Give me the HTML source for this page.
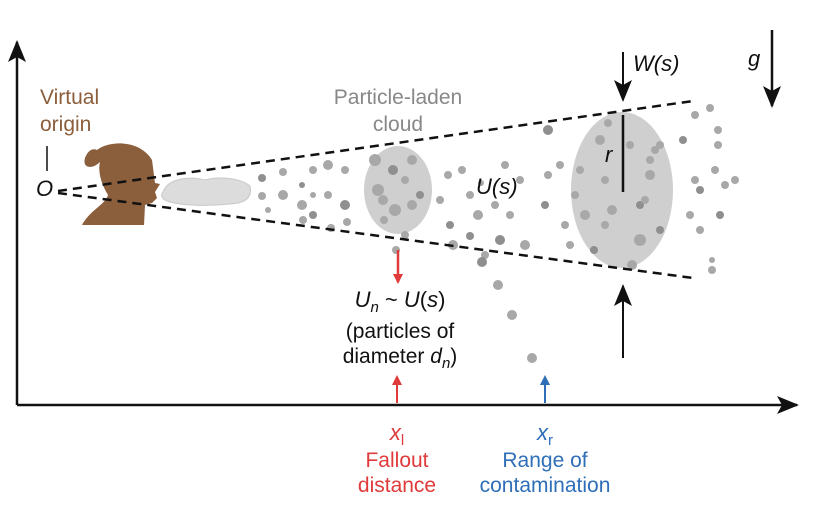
<!DOCTYPE html>
<html><head><meta charset="utf-8"><style>
html,body{margin:0;padding:0;background:#fff}
svg{display:block}
text{font-family:"Liberation Sans",sans-serif}
</style></head><body>
<svg id="fig" width="820" height="524" viewBox="0 0 820 524">
<defs>
<marker id="ah" markerWidth="10" markerHeight="10" refX="8" refY="5" orient="auto" markerUnits="userSpaceOnUse"><path d="M0,0 L10,5 L0,10 z" fill="#111"/></marker>
<marker id="ahb" markerWidth="22" markerHeight="22" refX="20" refY="11" orient="auto" markerUnits="userSpaceOnUse"><path d="M0,2 L22,11 L0,20 L5,11 z" fill="#111"/></marker>
<marker id="ahr" markerWidth="10" markerHeight="10" refX="8" refY="5" orient="auto" markerUnits="userSpaceOnUse"><path d="M0,0 L10,5 L0,10 z" fill="#e03a3a"/></marker>
<marker id="ahl" markerWidth="10" markerHeight="10" refX="8" refY="5" orient="auto" markerUnits="userSpaceOnUse"><path d="M0,0 L10,5 L0,10 z" fill="#2f6fb8"/></marker>
</defs>
<line x1="17" y1="405" x2="17" y2="42" stroke="#111" stroke-width="2.5" marker-end="url(#ahb)"/>
<line x1="17" y1="405" x2="797" y2="405" stroke="#111" stroke-width="2.5" marker-end="url(#ahb)"/>
<text x="40" y="104" font-size="21" fill="#8b5e3c">Virtual</text>
<text x="40" y="131" font-size="21" fill="#8b5e3c">origin</text>
<line x1="47" y1="146" x2="47" y2="171" stroke="#111" stroke-width="1.5"/>
<text x="36" y="196" font-size="22" font-style="italic" fill="#111">O</text>
<path d="M97,150 C110,140 140,140 152,160 L155,183 L160,184 L155,192 L157,198 L152,203 L145,205 L144,225 L82,225 C90,210 105,205 108,195 C100,182 98,170 100,162 C92,170 82,168 85,158 C88,150 93,148 97,150 z" fill="#8b5e3c"/>
<path d="M163,192 C168,178 190,176 205,180 C220,176 240,178 250,186 C252,196 248,203 230,204 C210,206 185,206 170,202 C162,200 160,196 163,192 z" fill="#dcdcdc" stroke="#c8c8c8"/>
<ellipse cx="398" cy="190" rx="34" ry="44" fill="#cfcfcf"/>
<ellipse cx="622" cy="190" rx="51" ry="78" fill="#cfcfcf"/>
<g id="dots"></g>
<line x1="58" y1="191" x2="693" y2="101" stroke="#111" stroke-width="2.5" stroke-dasharray="9,6"/>
<line x1="58" y1="193" x2="693" y2="278" stroke="#111" stroke-width="2.5" stroke-dasharray="9,6"/>
<text x="398" y="104" font-size="21" fill="#888" text-anchor="middle">Particle-laden</text>
<text x="398" y="131" font-size="21" fill="#888" text-anchor="middle">cloud</text>
<text x="476" y="194" font-size="22" font-style="italic" fill="#111">U(s)</text>
<line x1="623" y1="52" x2="623" y2="100" stroke="#111" stroke-width="2" marker-end="url(#ahb)"/>
<text x="633" y="71" font-size="22" font-style="italic" fill="#111">W(s)</text>
<line x1="623" y1="358" x2="623" y2="286" stroke="#111" stroke-width="2" marker-end="url(#ahb)"/>
<line x1="623" y1="115" x2="623" y2="192" stroke="#111" stroke-width="2.5"/>
<text x="605" y="162" font-size="22" font-style="italic" fill="#111">r</text>
<text x="748" y="66" font-size="22" font-style="italic" fill="#111">g</text>
<line x1="772" y1="30" x2="772" y2="106" stroke="#111" stroke-width="2.5" marker-end="url(#ahb)"/>
<line x1="398" y1="250" x2="398" y2="282" stroke="#e03a3a" stroke-width="2.5" marker-end="url(#ahr)"/>
<text x="400" y="307" font-size="22" fill="#111" text-anchor="middle"><tspan font-style="italic">U</tspan><tspan font-style="italic" font-size="15" dy="5">n</tspan><tspan dy="-5"> ~ </tspan><tspan font-style="italic">U</tspan>(<tspan font-style="italic">s</tspan>)</text>
<text x="400" y="338" font-size="21" fill="#111" text-anchor="middle">(particles of</text>
<text x="400" y="363" font-size="21" fill="#111" text-anchor="middle">diameter <tspan font-style="italic">d</tspan><tspan font-style="italic" font-size="15" dy="5">n</tspan><tspan dy="-5">)</tspan></text>
<line x1="397" y1="403" x2="397" y2="377" stroke="#e03a3a" stroke-width="2" marker-end="url(#ahr)"/>
<line x1="545" y1="403" x2="545" y2="377" stroke="#2f6fb8" stroke-width="2" marker-end="url(#ahl)"/>
<text x="397" y="440" font-size="22" fill="#e03a3a" text-anchor="middle"><tspan font-style="italic">x</tspan><tspan font-size="15" dy="5">l</tspan></text>
<text x="397" y="467" font-size="21" fill="#e03a3a" text-anchor="middle">Fallout</text>
<text x="397" y="492" font-size="21" fill="#e03a3a" text-anchor="middle">distance</text>
<text x="545" y="440" font-size="22" fill="#2f6fb8" text-anchor="middle"><tspan font-style="italic">x</tspan><tspan font-size="15" dy="5">r</tspan></text>
<text x="545" y="467" font-size="21" fill="#2f6fb8" text-anchor="middle">Range of</text>
<text x="545" y="492" font-size="21" fill="#2f6fb8" text-anchor="middle">contamination</text>
</svg>
<script>
const dotX=[262,262,268,283,283,302,302,303,313,313,313,328,328,331,345,345,347,375,378,383,393,395,405,412,412,420,384,405,396,440,450,448,453,462,470,470,478,481,485,495,500,505,510,520,525,545,560,565,570,575,548,548,580,585,600,594,605,612,605,630,640,640,645,650,655,660,650,632,608,660,683,690,695,695,700,700,710,712,715,718,720,725,735,712,718,482,498,512,532];
const dotY=[178,196,210,172,195,185,205,220,170,195,215,165,195,228,170,205,222,160,190,200,170,210,180,160,205,195,220,235,250,200,225,175,245,170,195,236,215,183,255,205,240,165,215,180,245,205,165,225,245,195,130,175,170,215,140,250,180,210,225,145,205,240,200,175,150,230,160,265,123,145,140,215,180,115,230,190,108,260,170,130,215,185,180,270,145,262,285,315,358];
const dotR=[4,4,3,4,5,3,5,4,4,3,4,5,4,4,4,5,4,6,6,5,5,6,4,5,5,4,4,4,4,4,4,4,5,4,4,4,5,3,4,4,5,4,4,4,5,4,4,4,4,4,5,4,4,5,5,4,4,5,4,4,4,6,4,5,4,4,4,5,4,4,4,4,4,4,4,4,4,3,4,4,4,4,4,4,4,5,5,5,5];
const g=document.getElementById('dots');
for(let i=0;i<dotX.length;i++){
  const c=document.createElementNS('http://www.w3.org/2000/svg','circle');
  c.setAttribute('cx',dotX[i]);c.setAttribute('cy',dotY[i]);c.setAttribute('r',dotR[i]);
  c.setAttribute('fill',i%5===0?'#8f8f8f':'#a8a8a8');
  
  
  g.appendChild(c);
}
</script>
</body></html>
